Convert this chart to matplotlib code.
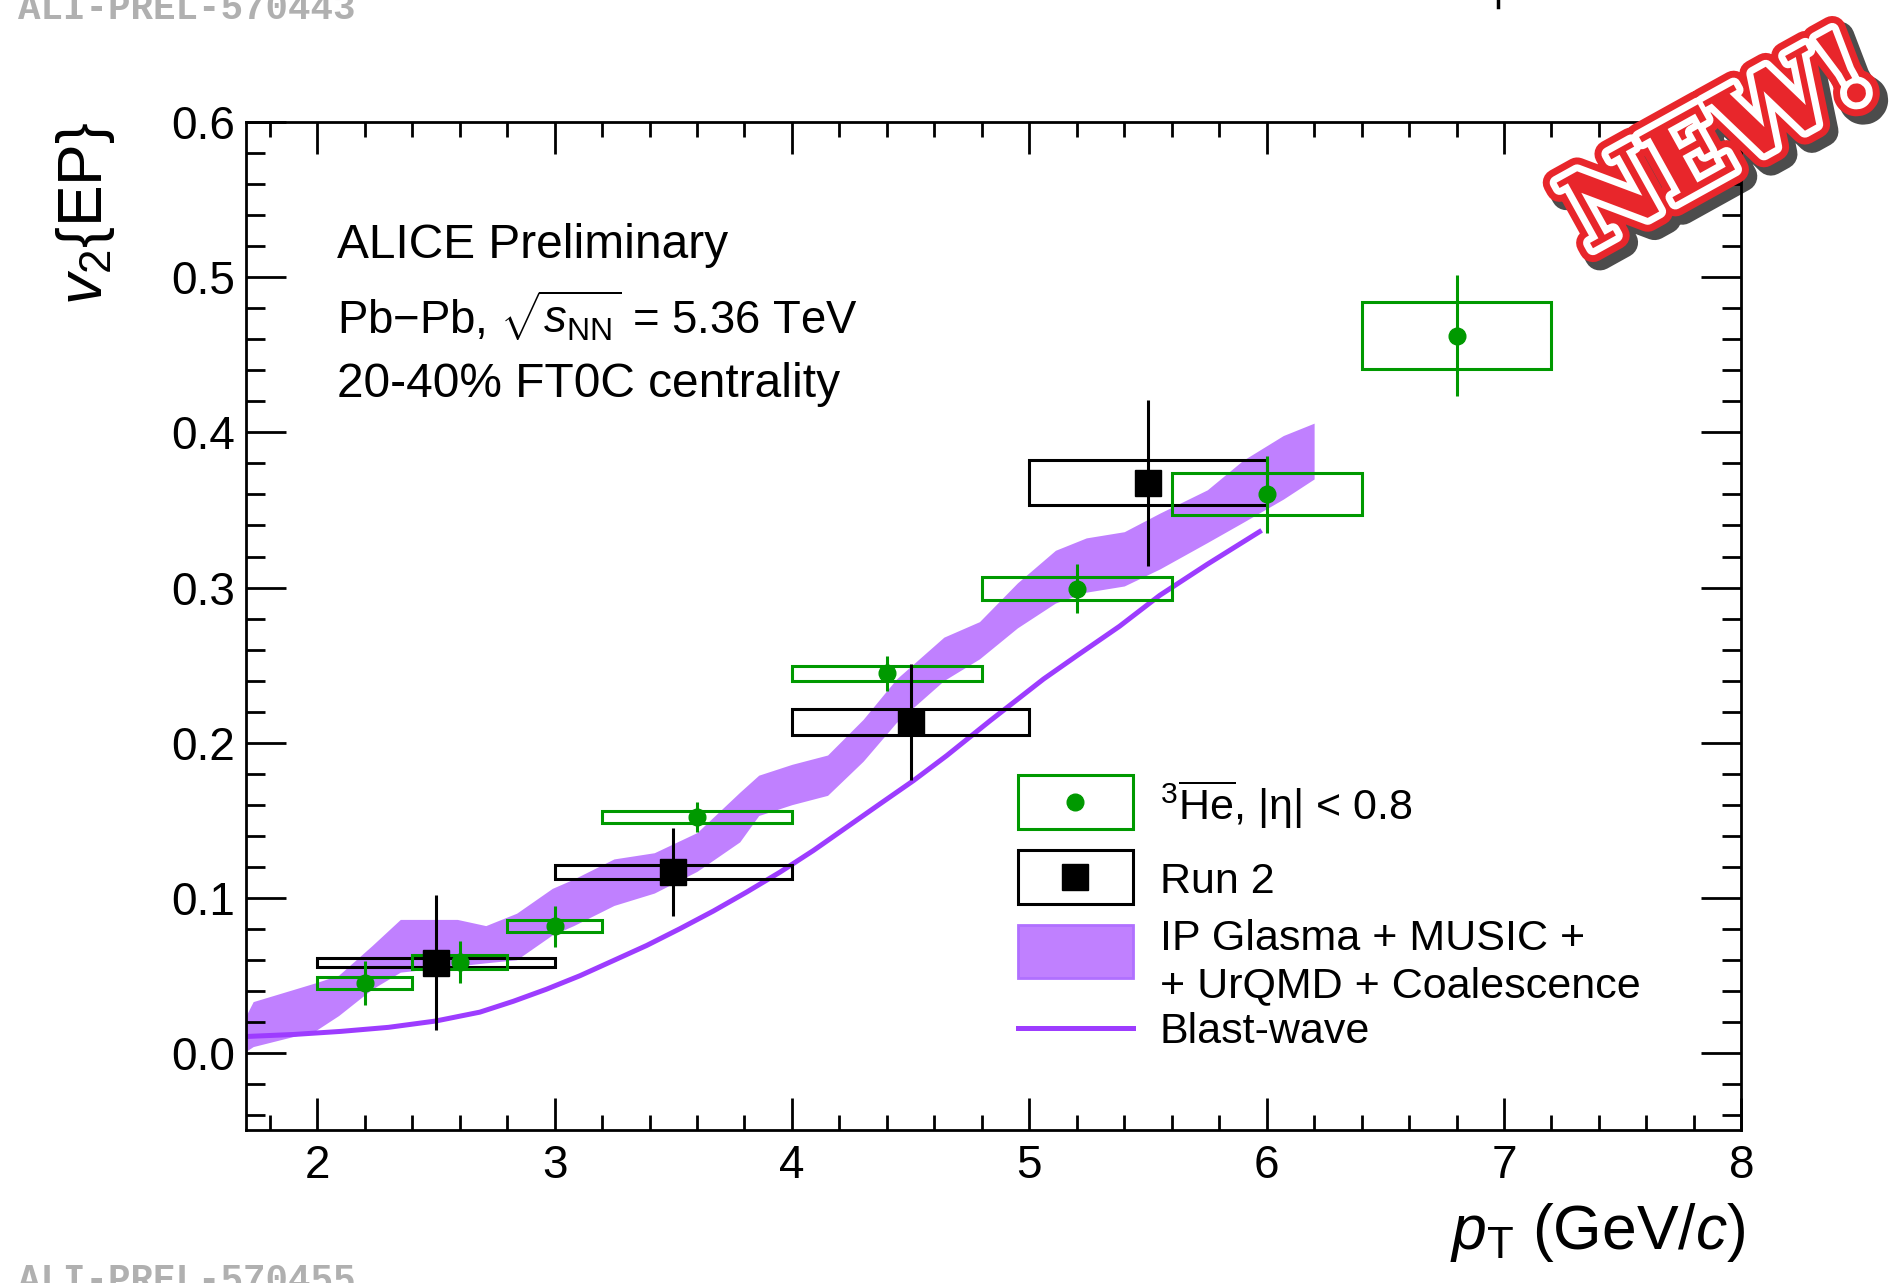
import numpy as np
import matplotlib.pyplot as plt
from matplotlib.patches import Rectangle
from matplotlib.lines import Line2D
import matplotlib.patheffects as pe
from matplotlib.ticker import MultipleLocator, FormatStrFormatter

plt.rcParams['font.family'] = ['Liberation Sans', 'DejaVu Sans']
plt.rcParams['mathtext.fontset'] = 'custom'
plt.rcParams['mathtext.rm'] = 'Liberation Sans'
plt.rcParams['mathtext.it'] = 'Liberation Sans:italic'
plt.rcParams['mathtext.bf'] = 'Liberation Sans:bold'

# anti-3He v2{EP}, Run 3 (green)
he3_pt = [2.2, 2.6, 3.0, 3.6, 4.4, 5.2, 6.0, 6.8]
he3_lo = [2.0, 2.4, 2.8, 3.2, 4.0, 4.8, 5.6, 6.4]
he3_hi = [2.4, 2.8, 3.2, 4.0, 4.8, 5.6, 6.4, 7.2]
he3_v2 = [0.045, 0.0585, 0.0817, 0.1519, 0.2446, 0.2993, 0.3601, 0.4625]
he3_stat = [0.0142, 0.0134, 0.0132, 0.0095, 0.0115, 0.0160, 0.0250, 0.0389]
he3_syst = [0.0040, 0.0043, 0.0041, 0.0040, 0.0048, 0.0075, 0.0135, 0.0215]

# Run 2 (black)
run2_pt = [2.5, 3.5, 4.5, 5.5]
run2_lo = [2.0, 3.0, 4.0, 5.0]
run2_hi = [3.0, 4.0, 5.0, 6.0]
run2_v2 = [0.0581, 0.1165, 0.2131, 0.3676]
run2_stat = [0.0435, 0.0283, 0.0373, 0.0535]
run2_syst = [0.0027, 0.0045, 0.0083, 0.0147]

# IP Glasma + MUSIC + UrQMD + Coalescence band
band_pt = [1.70, 1.73, 1.99, 2.09, 2.23, 2.35, 2.59, 2.71, 2.84, 2.99, 3.08, 3.25,
           3.42, 3.60, 3.78, 3.86, 4.00, 4.15, 4.30, 4.44, 4.64, 4.79, 4.95, 5.11,
           5.24, 5.40, 5.55, 5.75, 5.90, 6.07, 6.20]
band_hi = [0.024, 0.033, 0.045, 0.050, 0.069, 0.086, 0.086, 0.082, 0.090, 0.106, 0.112, 0.125,
           0.129, 0.142, 0.168, 0.179, 0.186, 0.192, 0.215, 0.241, 0.268, 0.278, 0.303, 0.324,
           0.332, 0.336, 0.348, 0.363, 0.382, 0.398, 0.406]
band_lo = [0.001, 0.004, 0.014, 0.024, 0.041, 0.052, 0.056, 0.058, 0.060, 0.076, 0.082, 0.095,
           0.103, 0.117, 0.136, 0.153, 0.160, 0.166, 0.188, 0.213, 0.240, 0.254, 0.274, 0.290,
           0.297, 0.301, 0.312, 0.329, 0.342, 0.357, 0.370]

# Blast-wave
bw_pt = [1.70, 1.90, 2.10, 2.30, 2.50, 2.685, 2.826, 2.966, 3.107, 3.247, 3.388, 3.528,
         3.669, 3.809, 3.950, 4.090, 4.231, 4.371, 4.512, 4.652, 4.834, 5.06, 5.20, 5.38,
         5.55, 5.75, 5.97]
bw_v2 = [0.0105, 0.0118, 0.0138, 0.0164, 0.0205, 0.0262, 0.0332, 0.0410, 0.0497, 0.0594, 0.0692,
         0.080, 0.0914, 0.1036, 0.1165, 0.1304, 0.1455, 0.1605, 0.1755, 0.1916, 0.214, 0.241,
         0.256, 0.275, 0.295, 0.315, 0.336]

green = '#009900'
violet_band = '#c080ff'
violet_line = '#9d3cff'

fig = plt.figure(figsize=(19, 12.83), dpi=100)
ax = fig.add_axes([0.1295, 0.119, 0.787, 0.7857])

ax.fill_between(band_pt, band_lo, band_hi, color=violet_band, lw=0, zorder=1)
ax.plot(bw_pt, bw_v2, color=violet_line, lw=3.6, zorder=2)

# systematic boxes
for lo, hi, v, s in zip(run2_lo, run2_hi, run2_v2, run2_syst):
    ax.add_patch(Rectangle((lo, v - s), hi - lo, 2 * s, fill=False, ec='black', lw=2.2, zorder=3))
for lo, hi, v, s in zip(he3_lo, he3_hi, he3_v2, he3_syst):
    ax.add_patch(Rectangle((lo, v - s), hi - lo, 2 * s, fill=False, ec=green, lw=2.2, zorder=3))

# statistical errors + markers
ax.errorbar(he3_pt, he3_v2, yerr=he3_stat, fmt='o', color=green, ms=12, elinewidth=2.2,
            capsize=0, zorder=5)
ax.errorbar(run2_pt, run2_v2, yerr=run2_stat, fmt='s', color='black', ms=19, elinewidth=2.2,
            capsize=0, zorder=6)

ax.set_xlim(1.7, 8)
ax.set_ylim(-0.05, 0.6)

ax.xaxis.set_major_locator(MultipleLocator(1))
ax.xaxis.set_minor_locator(MultipleLocator(0.2))
ax.yaxis.set_major_locator(MultipleLocator(0.1))
ax.yaxis.set_minor_locator(MultipleLocator(0.02))
ax.yaxis.set_major_formatter(FormatStrFormatter('%.1f'))
ax.tick_params(which='both', direction='in', top=True, right=True, labelsize=33, width=2)
ax.tick_params(axis='x', which='major', length=23, pad=10)
ax.tick_params(axis='x', which='minor', length=11)
ax.tick_params(axis='y', which='major', length=29, pad=8)
ax.tick_params(axis='y', which='minor', length=14)
for sp in ax.spines.values():
    sp.set_linewidth(2)

ax.set_xlabel(r'$p_{\mathrm{T}}$ (GeV/$c$)', fontsize=45, loc='right')
ax.xaxis.set_label_coords(1.003, -0.07)
ax.set_ylabel(r'$v_{2}\{\mathrm{EP}\}$', fontsize=45, loc='top')
ax.yaxis.set_label_coords(-0.086, 1.0)

# header text
ax.text(0.061, 0.878, 'ALICE Preliminary', transform=ax.transAxes, fontsize=34.5, va='center')
ax.text(0.061, 0.808, r'Pb$-$Pb, $\sqrt{s_{\mathrm{NN}}}$ = 5.36 TeV', transform=ax.transAxes,
        fontsize=32.8, va='center')
ax.text(0.061, 0.740, '20-40% FT0C centrality', transform=ax.transAxes, fontsize=34.5,
        va='center')

# legend
bx, bw, bh = 0.516, 0.077, 0.053
ax.add_patch(Rectangle((bx, 0.299), bw, bh, transform=ax.transAxes, fill=False, ec=green,
                       lw=2.2, clip_on=False, zorder=7))
ax.plot([bx + bw / 2], [0.3255], 'o', color=green, ms=12, transform=ax.transAxes, clip_on=False,
        zorder=8)
ax.add_patch(Rectangle((bx, 0.225), bw, bh, transform=ax.transAxes, fill=False, ec='black',
                       lw=2.2, clip_on=False, zorder=7))
ax.plot([bx + bw / 2], [0.2515], 's', color='black', ms=19, transform=ax.transAxes,
        clip_on=False, zorder=8)
ax.add_patch(Rectangle((bx, 0.151), bw, bh, transform=ax.transAxes, fc=violet_band,
                       ec='#b070ff', lw=2, clip_on=False, zorder=7))
ax.plot([bx, bx + bw], [0.102, 0.102], color=violet_line, lw=3.6, transform=ax.transAxes,
        clip_on=False, zorder=8)
tx = 0.611
ax.text(tx, 0.323, r'$^{3}\overline{\mathrm{He}}$, |η| < 0.8', transform=ax.transAxes,
        fontsize=31, va='center')
ax.text(tx, 0.246, 'Run 2', transform=ax.transAxes, fontsize=31, va='center')
ax.text(tx, 0.190, 'IP Glasma + MUSIC +', transform=ax.transAxes, fontsize=31, va='center')
ax.text(tx, 0.143, '+ UrQMD + Coalescence', transform=ax.transAxes, fontsize=31, va='center')
ax.text(tx, 0.098, 'Blast-wave', transform=ax.transAxes, fontsize=31, va='center')

# figure id labels (partly cut by page edge)
fig.text(0.0095, 0.9855, 'ALI-PREL-570443', family='Liberation Mono', fontweight='bold',
         fontsize=27, color='#b0b0b0', va='baseline')
fig.text(0.0095, -0.006, 'ALI-PREL-570455', family='Liberation Mono', fontweight='bold',
         fontsize=27, color='#b0b0b0', va='baseline')
fig.add_artist(Line2D([1498 / 1900, 1498 / 1900], [1.0, 1 - 7 / 1283], color='black', lw=2.5))

# NEW! stamp
fig.text(0.9056, 0.8871, 'NEW!', rotation=29, ha='center', va='center', fontsize=74,
         fontweight='bold', family='DejaVu Serif', color='#e8262b',
         path_effects=[pe.Stroke(linewidth=22, foreground='black', offset=(5, -5), alpha=0.7),
                       pe.Stroke(linewidth=20, foreground='#e8262b'),
                       pe.Stroke(linewidth=10, foreground='white'),
                       pe.Normal()])

fig.savefig('out.png', dpi=100)
